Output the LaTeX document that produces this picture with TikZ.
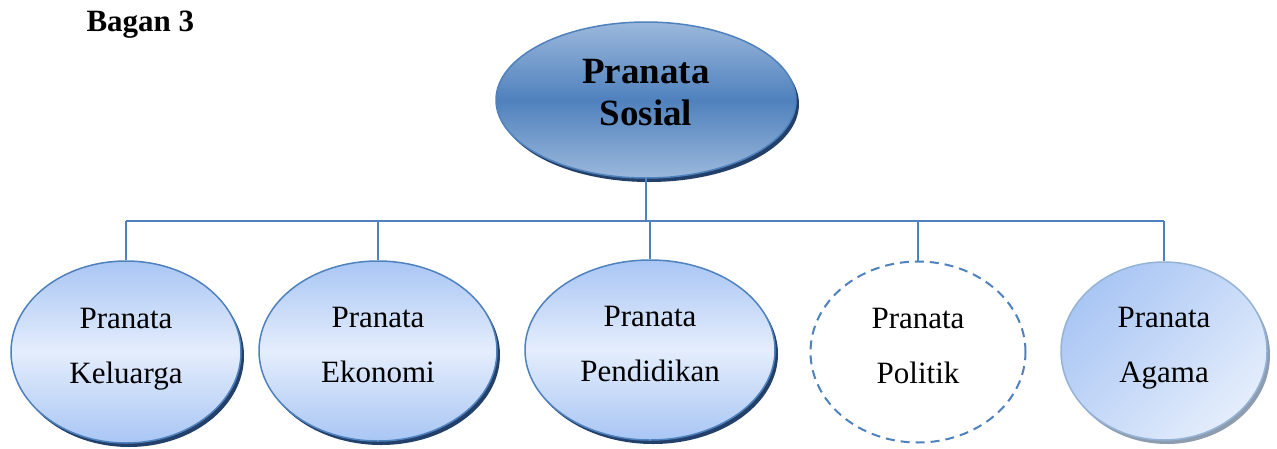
\documentclass[tikz,border=0pt]{standalone}
\usepackage{fontspec}
\setmainfont{Liberation Serif}
\usetikzlibrary{shapes.geometric,shadows}
\definecolor{lineblue}{HTML}{4F81BD}
\definecolor{rootlight}{HTML}{9BB8DC}
\definecolor{childedge}{HTML}{A9C6F4}
\definecolor{childmid}{HTML}{E4EDFC}
\definecolor{navyshadow}{HTML}{22406A}
\definecolor{agamaedge}{HTML}{95B3D7}
\definecolor{greyshadow}{HTML}{8E9CB0}
\tikzset{
  rootbox/.style={ellipse, draw=lineblue, line width=1.5pt, inner sep=0pt,
    minimum width=300pt, minimum height=156pt, text depth=16pt,
    top color=rootlight, bottom color=rootlight, middle color=lineblue,
    drop shadow={shadow xshift=3pt, shadow yshift=-4pt, fill=navyshadow, opacity=1},
    align=center, font=\fontsize{37}{42}\selectfont\bfseries},
  childbox/.style={ellipse, draw=lineblue, line width=1.5pt, inner sep=0pt, text depth=12pt,
    top color=childedge, bottom color=childedge, middle color=childmid,
    drop shadow={shadow xshift=3pt, shadow yshift=-4pt, fill=navyshadow, opacity=1},
    align=center, font=\fontsize{31}{55}\selectfont},
  dashbox/.style={ellipse, draw=lineblue, line width=2pt, dash pattern=on 9pt off 6pt,
    inner sep=0pt, text depth=12pt, align=center, font=\fontsize{31}{55}\selectfont},
  agamabox/.style={ellipse, draw=agamaedge, line width=1.5pt, inner sep=0pt, text depth=12pt,
    shading=axis, left color=childedge, right color=childmid, shading angle=45,
    drop shadow={shadow xshift=3pt, shadow yshift=-4pt, fill=greyshadow, opacity=1},
    align=center, font=\fontsize{31}{55}\selectfont},
  link/.style={draw=lineblue, line width=1.5pt}
}
\begin{document}
\begin{tikzpicture}[x=1pt,y=-1pt]
\useasboundingbox (0,0) rectangle (1277,448);
\node[anchor=base west, font=\fontsize{31}{36}\selectfont\bfseries] (title) at (83,31) {Bagan 3};
\node[rootbox] (root) at (646,100) {Pranata\\Sosial};
\node[childbox, minimum width=230pt, minimum height=182pt] (c1) at (126,352) {Pranata\\Keluarga};
\node[childbox, minimum width=238pt, minimum height=180pt] (c2) at (378,351) {Pranata\\Ekonomi};
\node[childbox, minimum width=250pt, minimum height=180pt] (c3) at (650,350) {Pranata\\Pendidikan};
\node[dashbox, minimum width=215pt, minimum height=181pt] (c4) at (918,352) {Pranata\\Politik};
\node[agamabox, minimum width=206pt, minimum height=178pt] (c5) at (1164,351) {Pranata\\Agama};
\coordinate (bar) at (646,221);
\draw[link] (root.south) -- (bar);
\draw[link] (bar -| c1.north) -- (bar -| c5.north);
\foreach \c in {c1,c2,c3,c4,c5} {
  \draw[link] (bar -| \c.north) -- (\c.north);
}
\end{tikzpicture}
\end{document}
